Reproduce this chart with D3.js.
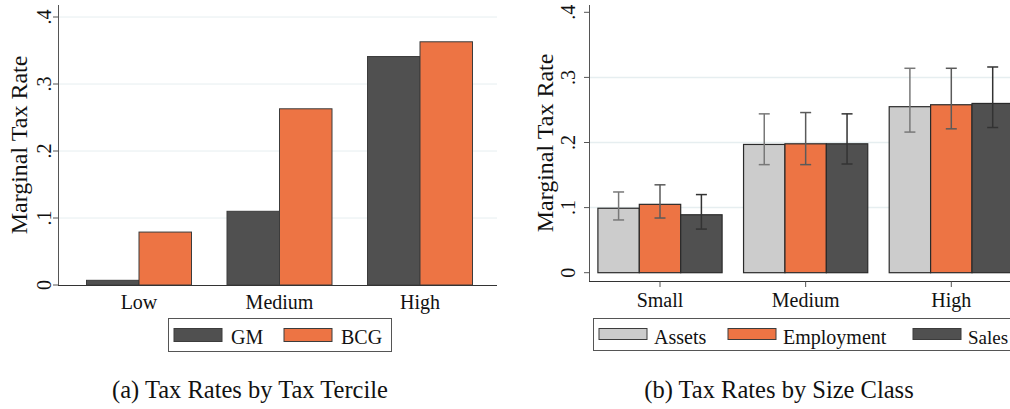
<html lang="en">
  <head>
    <meta charset="utf-8">
    <title>Marginal Tax Rates</title>
    <script src="https://d3js.org/d3.v7.min.js"></script>
    <style>
      body { margin: 0; background: white; }
      text { font-family: "Liberation Serif", "DejaVu Serif", serif; fill: #111; }
    </style>
  </head>
  <body>
    <div id="my_dataviz"></div>
    <script>

// ---- data, panel (a) ----
var terciles = ["Low", "Medium", "High"]
var tercileSeries = ["GM", "BCG"]
var gmRates = [0.007, 0.110, 0.341]
var bcgRates = [0.079, 0.263, 0.363]

// ---- data, panel (b) ----
var sizeClasses = ["Small", "Medium", "High"]
var sizeSeries = ["Assets", "Employment", "Sales"]
var assetsRates = [0.099, 0.197, 0.255]
var employmentRates = [0.105, 0.198, 0.258]
var salesRates = [0.089, 0.198, 0.260]
var assetsLow = [0.081, 0.166, 0.216]
var assetsHigh = [0.124, 0.244, 0.314]
var employmentLow = [0.084, 0.166, 0.221]
var employmentHigh = [0.135, 0.246, 0.314]
var salesLow = [0.067, 0.167, 0.223]
var salesHigh = [0.120, 0.244, 0.316]

var yTicks = [0, 0.1, 0.2, 0.3, 0.4]
var yTickLabels = ["0", ".1", ".2", ".3", ".4"]
var captions = ["(a) Tax Rates by Tax Tercile", "(b) Tax Rates by Size Class"]

var fillColor = {GM: "#505050", BCG: "#ed7444", Assets: "#cccccc", Employment: "#ed7444", Sales: "#505050"}
var errColor = {Assets: "#787878", Employment: "#5a5a5a", Sales: "#333333"}

var svg = d3.select("#my_dataviz")
  .append("svg")
    .attr("width", 1010)
    .attr("height", 409)
    .attr("style", "background-color:white")

// ================= panel (a) =================
var ya = d3.scaleLinear().domain([0, 0.4]).range([285, 17])
var xa = d3.scalePoint().domain(terciles).range([139, 420])
var xaInner = d3.scaleBand().domain(tercileSeries).range([-52.5, 52.5])

var pa = svg.append("g")

// grid lines
pa.selectAll(".grid")
  .data(yTicks.slice(1))
  .enter()
  .append("line")
    .attr("x1", 59).attr("x2", 497)
    .attr("y1", function(d) { return ya(d) })
    .attr("y2", function(d) { return ya(d) })
    .attr("stroke", "#e6eef0")
    .attr("stroke-width", 1)

var dataA = []
terciles.forEach(function(t, i) {
  dataA.push({cat: t, series: "GM", value: gmRates[i]})
  dataA.push({cat: t, series: "BCG", value: bcgRates[i]})
})

pa.selectAll(".bar")
  .data(dataA)
  .enter()
  .append("rect")
    .attr("x", function(d) { return xa(d.cat) + xaInner(d.series) })
    .attr("width", xaInner.bandwidth())
    .attr("y", function(d) { return ya(d.value) })
    .attr("height", function(d) { return ya(0) - ya(d.value) })
    .attr("fill", function(d) { return fillColor[d.series] })
    .attr("stroke", "#3c3c3c")
    .attr("stroke-width", 1)

// y axis
pa.append("line")
  .attr("x1", 58.5).attr("x2", 58.5).attr("y1", 5).attr("y2", 285)
  .attr("stroke", "#555")
pa.selectAll(".ytick")
  .data(yTicks)
  .enter()
  .append("line")
    .attr("x1", 53).attr("x2", 58.5)
    .attr("y1", function(d) { return ya(d) })
    .attr("y2", function(d) { return ya(d) })
    .attr("stroke", "#555")
pa.selectAll(".ylab")
  .data(yTicks)
  .enter()
  .append("text")
    .attr("transform", function(d) { return "translate(51," + ya(d) + ") rotate(-90)" })
    .attr("text-anchor", "middle")
    .style("font-size", "20px")
    .text(function(d, i) { return yTickLabels[i] })

// x axis
pa.append("line")
  .attr("x1", 58).attr("x2", 497).attr("y1", 285.5).attr("y2", 285.5)
  .attr("stroke", "#333")
pa.selectAll(".xlab")
  .data(terciles)
  .enter()
  .append("text")
    .attr("x", function(d) { return xa(d) })
    .attr("y", 309)
    .attr("text-anchor", "middle")
    .style("font-size", "20px")
    .text(function(d) { return d })

pa.append("text")
  .attr("transform", "translate(27,145) rotate(-90)")
  .attr("text-anchor", "middle")
  .style("font-size", "24px")
  .text("Marginal Tax Rate")

// legend
pa.append("rect")
  .attr("x", 168.5).attr("y", 318.5).attr("width", 223).attr("height", 33)
  .attr("fill", "white").attr("stroke", "#555")
var legA = [{s: "GM", x: 174}, {s: "BCG", x: 284}]
legA.forEach(function(d) {
  pa.append("rect")
    .attr("x", d.x).attr("y", 328.5).attr("width", 48).attr("height", 13)
    .attr("fill", fillColor[d.s]).attr("stroke", "#3c3c3c")
  pa.append("text")
    .attr("x", d.x + 57).attr("y", 344)
    .style("font-size", "20px")
    .text(d.s)
})

// ================= panel (b) =================
var yb = d3.scaleLinear().domain([0, 0.4]).range([272.7, 12.3])
var xb = d3.scalePoint().domain(sizeClasses).range([660, 951.3])
var xbInner = d3.scaleBand().domain(sizeSeries).range([-62.1, 62.1])

var pb = svg.append("g")

pb.selectAll(".grid")
  .data([0.1, 0.2, 0.3])
  .enter()
  .append("line")
    .attr("x1", 590).attr("x2", 1010)
    .attr("y1", function(d) { return yb(d) })
    .attr("y2", function(d) { return yb(d) })
    .attr("stroke", "#e6eef0")
    .attr("stroke-width", 1.5)

var dataB = []
sizeClasses.forEach(function(c, i) {
  dataB.push({cat: c, series: "Assets", value: assetsRates[i], lo: assetsLow[i], hi: assetsHigh[i]})
  dataB.push({cat: c, series: "Employment", value: employmentRates[i], lo: employmentLow[i], hi: employmentHigh[i]})
  dataB.push({cat: c, series: "Sales", value: salesRates[i], lo: salesLow[i], hi: salesHigh[i]})
})

pb.selectAll(".bar")
  .data(dataB)
  .enter()
  .append("rect")
    .attr("x", function(d) { return xb(d.cat) + xbInner(d.series) })
    .attr("width", xbInner.bandwidth())
    .attr("y", function(d) { return yb(d.value) })
    .attr("height", function(d) { return yb(0) - yb(d.value) })
    .attr("fill", function(d) { return fillColor[d.series] })
    .attr("stroke", "#2a2a2a")
    .attr("stroke-width", 1.2)

// error bars
var errs = pb.selectAll(".err")
  .data(dataB)
  .enter()
  .append("g")
    .attr("stroke", function(d) { return errColor[d.series] })
    .attr("stroke-width", 1.5)
errs.append("line")
  .attr("x1", function(d) { return xb(d.cat) + xbInner(d.series) + xbInner.bandwidth() / 2 })
  .attr("x2", function(d) { return xb(d.cat) + xbInner(d.series) + xbInner.bandwidth() / 2 })
  .attr("y1", function(d) { return yb(d.lo) })
  .attr("y2", function(d) { return yb(d.hi) })
errs.selectAll(".cap")
  .data(function(d) { return [{d: d, v: d.lo}, {d: d, v: d.hi}] })
  .enter()
  .append("line")
    .attr("x1", function(c) { return xb(c.d.cat) + xbInner(c.d.series) + xbInner.bandwidth() / 2 - 5.5 })
    .attr("x2", function(c) { return xb(c.d.cat) + xbInner(c.d.series) + xbInner.bandwidth() / 2 + 5.5 })
    .attr("y1", function(c) { return yb(c.v) })
    .attr("y2", function(c) { return yb(c.v) })

// y axis
pb.append("line")
  .attr("x1", 589.5).attr("x2", 589.5).attr("y1", 5).attr("y2", 281)
  .attr("stroke", "#555")
pb.selectAll(".ytick")
  .data(yTicks)
  .enter()
  .append("line")
    .attr("x1", 584).attr("x2", 589.5)
    .attr("y1", function(d) { return yb(d) })
    .attr("y2", function(d) { return yb(d) })
    .attr("stroke", "#555")
pb.selectAll(".ylab")
  .data(yTicks)
  .enter()
  .append("text")
    .attr("transform", function(d) { return "translate(575," + yb(d) + ") rotate(-90)" })
    .attr("text-anchor", "middle")
    .style("font-size", "20px")
    .text(function(d, i) { return yTickLabels[i] })

// x axis
pb.append("line")
  .attr("x1", 589).attr("x2", 1010).attr("y1", 281.5).attr("y2", 281.5)
  .attr("stroke", "#333")
pb.selectAll(".xtick")
  .data(sizeClasses)
  .enter()
  .append("line")
    .attr("x1", function(d) { return xb(d) })
    .attr("x2", function(d) { return xb(d) })
    .attr("y1", 281.5).attr("y2", 287)
    .attr("stroke", "#555")
pb.selectAll(".xlab")
  .data(sizeClasses)
  .enter()
  .append("text")
    .attr("x", function(d) { return xb(d) })
    .attr("y", 307)
    .attr("text-anchor", "middle")
    .style("font-size", "20px")
    .text(function(d) { return d })

pb.append("text")
  .attr("transform", "translate(553,143) rotate(-90)")
  .attr("text-anchor", "middle")
  .style("font-size", "24px")
  .text("Marginal Tax Rate")

// legend (the frame runs past the right edge, as in the original figure)
pb.append("rect")
  .attr("x", 593.5).attr("y", 318.5).attr("width", 430).attr("height", 32)
  .attr("fill", "white").attr("stroke", "#555")
var legB = [{s: "Assets", x: 599}, {s: "Employment", x: 728}, {s: "Sales", x: 913}]
legB.forEach(function(d) {
  pb.append("rect")
    .attr("x", d.x).attr("y", 328.5).attr("width", 48).attr("height", 11)
    .attr("fill", fillColor[d.s]).attr("stroke", "#3c3c3c")
  pb.append("text")
    .attr("x", d.x + 55).attr("y", 344)
    .style("font-size", d.s == "Sales" ? "19px" : "20px")
    .text(d.s)
})

// captions
svg.selectAll(".caption")
  .data(captions)
  .enter()
  .append("text")
    .attr("x", function(d, i) { return i == 0 ? 250 : 779 })
    .attr("y", 398)
    .attr("text-anchor", "middle")
    .style("font-size", "24.5px")
    .text(function(d) { return d })

    </script>
  </body>
</html>
